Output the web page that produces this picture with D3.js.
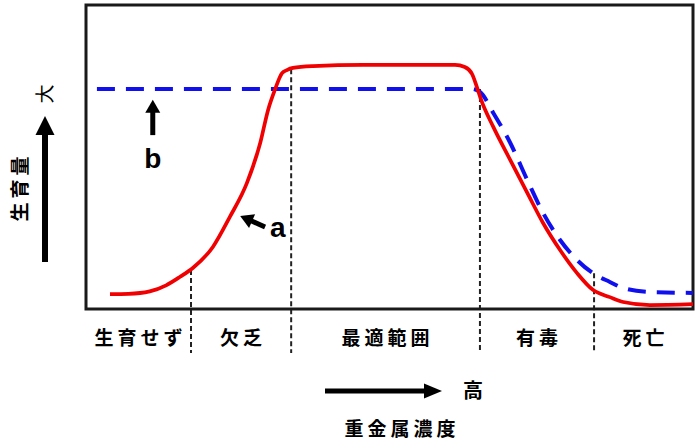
<!DOCTYPE html>
<html><head><meta charset="utf-8">
<script src="https://cdn.jsdelivr.net/npm/d3@7"></script>
<style>
html,body{margin:0;padding:0;background:#fff;}
svg{display:block;}
.jp{font-family:"Noto Sans CJK JP","Noto Sans",sans-serif;}
.lat{font-family:"Liberation Sans",Arial,sans-serif;}
</style></head>
<body>
<svg id="c" width="696" height="442"></svg>
<script>
// ---- data ----
const zoneLabels = ["生育せず","欠乏","最適範囲","有毒","死亡"];
const zoneBounds = [0, 17.3, 33.8, 64.9, 83.7, 100];
const separatorTops = [12.8, 78.9, 72.4, 11.8];
const redX = [3.95,7.0,10.5,13.2,15.5,17.6,20.9,23.7,26.5,28.7,30.0,31.1,32.3,33.1,34.1,37.4,45.6,60.8,62.4,63.6,64.4,65.1,67.1,69.9,72.7,75.3,78.1,80.9,83.5,86.3,88.5,92.9,100];
const redY = [4.9,5.0,5.8,7.8,10.6,13.5,20.4,30.3,41.4,54.6,65.5,72.0,77.6,78.6,79.3,79.9,80.3,80.3,79.6,77.3,73.0,68.8,59.9,49.0,38.2,28.3,19.4,11.8,6.3,3.9,2.3,1.3,1.6];
const blueX = [1.8,63.5,64.9,67.1,69.9,72.7,75.3,78.1,80.9,83.5,86.3,88.5,92.9,100];
const blueY = [72.4,72.4,71.4,64.5,54.6,42.4,31.6,22.7,16.1,11.8,8.9,6.9,5.6,5.3];
const annA = {label:"a", from:[29.5,27.0], to:[25.4,30.6], text:[30.3,23.7]};
const annB = {label:"b", from:[11.0,57.2], to:[11.0,68.8], text:[11.0,46.4]};
const yTitle = "生育量", yHigh = "大", xTitle = "重金属濃度", xHigh = "高";

// ---- layout ----
const svg = d3.select("#c");
const L = 86, R = 693, T = 5, B = 309;
const x = d3.scaleLinear().domain([0,100]).range([L,R]);
const y = d3.scaleLinear().domain([0,100]).range([B,T]);

function arrow(g, x1, y1, x2, y2, shaftW, headL, headW) {
  const dx = x2-x1, dy = y2-y1, len = Math.hypot(dx,dy);
  const ux = dx/len, uy = dy/len, px = -uy, py = ux;
  const bx = x2 - ux*headL, by = y2 - uy*headL;
  g.append("line").attr("x1",x1).attr("y1",y1).attr("x2",bx+ux*1).attr("y2",by+uy*1)
    .attr("stroke","#000").attr("stroke-width",shaftW);
  g.append("path").attr("d",`M${x2},${y2}L${bx+px*headW/2},${by+py*headW/2}L${bx-px*headW/2},${by-py*headW/2}Z`)
    .attr("fill","#000");
}

// separators
const seps = svg.append("g");
zoneBounds.slice(1,-1).forEach((b,i)=>{
  seps.append("line").attr("x1",x(b)).attr("x2",x(b))
    .attr("y1",y(separatorTops[i])).attr("y2",B+44)
    .attr("stroke","#222").attr("stroke-width",2).attr("stroke-dasharray","5,3");
});

// frame
svg.append("rect").attr("x",L).attr("y",T).attr("width",R-L).attr("height",B-T)
  .attr("fill","none").attr("stroke","#1a1a1a").attr("stroke-width",3);

// curves
const line = d3.line().x(d=>x(d[0])).y(d=>y(d[1])).curve(d3.curveMonotoneX);
svg.append("path").datum(blueX.map((v,i)=>[v,blueY[i]])).attr("d",line)
  .attr("fill","none").attr("stroke","#1010ee").attr("stroke-width",4)
  .attr("stroke-dasharray","18,11");
svg.append("path").datum(redX.map((v,i)=>[v,redY[i]])).attr("d",line)
  .attr("fill","none").attr("stroke","#f00000").attr("stroke-width",3.7)
  .attr("stroke-linejoin","round");

// annotations
const ga = svg.append("g");
[annA, annB].forEach(a=>{
  arrow(ga, x(a.from[0]), y(a.from[1]), x(a.to[0]), y(a.to[1]), 5, 13, 15);
  ga.append("text").attr("class","lat").attr("x",x(a.text[0])).attr("y",y(a.text[1]))
    .attr("text-anchor", a.label==="b"?"middle":"start")
    .attr("font-size",28).attr("font-weight","bold").text(a.label);
});

// zone labels
zoneLabels.forEach((t,i)=>{
  const cx = (x(zoneBounds[i])+x(zoneBounds[i+1]))/2;
  svg.append("text").attr("class","jp").attr("x",cx+2).attr("y",345)
    .attr("text-anchor","middle").attr("font-size",19).attr("font-weight","bold")
    .attr("letter-spacing",4).text(t);
});

// x axis arrow & titles
const gx = svg.append("g");
arrow(gx, 325, 391, 442, 391, 5, 18, 15);
gx.append("text").attr("class","jp").attr("x",473).attr("y",398).attr("text-anchor","middle")
  .attr("font-size",20).attr("font-weight","bold").text(xHigh);
gx.append("text").attr("class","jp").attr("x",402).attr("y",436).attr("text-anchor","middle")
  .attr("font-size",19).attr("font-weight","bold").attr("letter-spacing",4).text(xTitle);

// y axis arrow & titles
const gy = svg.append("g");
arrow(gy, 45, 262, 45, 116, 6, 19, 19);
gy.append("text").attr("class","jp").attr("transform","translate(52,94) rotate(-90)")
  .attr("text-anchor","middle").attr("font-size",19).text(yHigh);
gy.append("text").attr("class","jp").attr("transform","translate(27,187) rotate(-90)")
  .attr("text-anchor","middle").attr("font-size",19).attr("font-weight","bold")
  .attr("letter-spacing",4).text(yTitle);
</script>
</body></html>
